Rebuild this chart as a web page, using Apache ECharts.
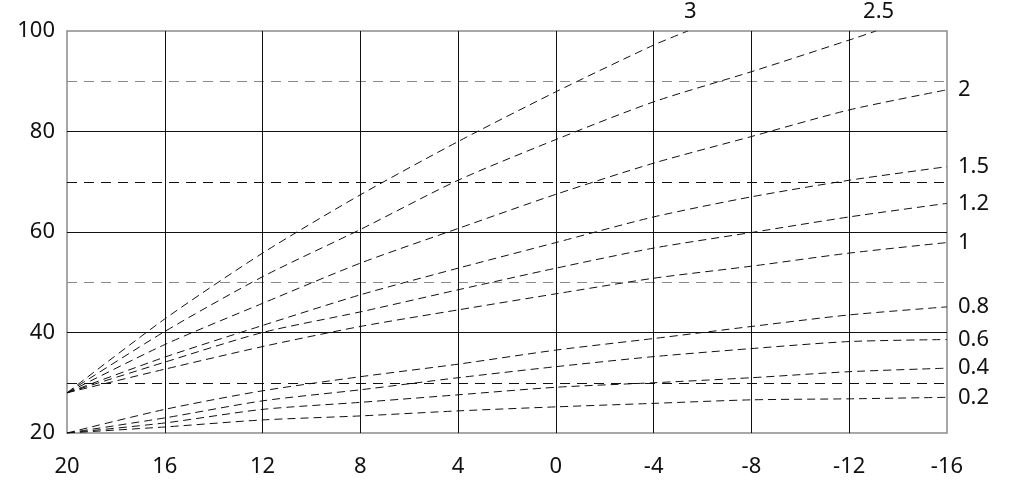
<!DOCTYPE html>
<html><head><meta charset="utf-8">
<script src="https://cdn.jsdelivr.net/npm/echarts@6/dist/echarts.min.js"></script>
<style>html,body{margin:0;padding:0;background:#fff}#c{width:1023px;height:501px}</style>
</head><body><div id="c"></div>
<script>
// Outdoor temperature (x) and flow temperature (y) heating curves
const outdoorTemps = [20, 16, 12, 8, 4, 0, -4, -8, -12, -16];
const curveNames = ['0.2', '0.4', '0.6', '0.8', '1', '1.2', '1.5', '2', '2.5', '3'];
const curve02 = [20, 21.2, 22.6, 23.4, 24.4, 25.2, 25.9, 26.6, 26.8, 27.1];
const curve04 = [20, 22.0, 24.7, 26.1, 27.6, 29.1, 30.0, 31.0, 32.2, 32.9];
const curve06 = [20, 23.0, 26.4, 28.6, 31.0, 33.2, 35.2, 36.8, 38.2, 38.6];
const curve08 = [20, 24.7, 28.4, 31.2, 33.7, 36.5, 38.8, 41.2, 43.5, 45.1];
const curve10 = [28, 32.7, 37.2, 41.2, 44.5, 47.7, 50.8, 53.2, 55.8, 57.9];
const curve12 = [28, 34.1, 40.0, 44.1, 48.5, 52.8, 56.8, 59.9, 63.0, 65.7];
const curve15 = [28, 35.1, 41.4, 47.5, 52.8, 57.9, 63.0, 67.0, 70.3, 73.0];
const curve20 = [28, 37.6, 45.8, 53.8, 60.7, 67.5, 73.7, 79.0, 84.3, 88.3];
const curve25 = [28, 40.2, 51.1, 60.5, 70.3, 78.4, 85.9, 91.9, 98.2];
const curve30 = [28, 42.7, 55.8, 67.4, 78.0, 87.9, 97.2];
// where curves 2.5 and 3 leave the top of the chart (flow = 100)
const curve25TopTemp = -13.1;
const curve30TopTemp = -5.4;
const flowTop = 100;

const curveValues = [curve02, curve04, curve06, curve08, curve10, curve12, curve15, curve20, curve25, curve30];
const topTemps = {'2.5': curve25TopTemp, '3': curve30TopTemp};

const FONT = 'Noto Sans';
const FS = 22;
const series = curveNames.map((name, k) => {
  const vals = curveValues[k];
  const data = vals.map((v, i) => [outdoorTemps[i], v]);
  const top = name in topTemps;
  if (top) data.push([topTemps[name], flowTop]);
  return {
    name: name,
    type: 'line',
    data: data,
    smooth: 0.25,
    symbol: 'none',
    yAxisIndex: 0,
    lineStyle: {color: '#111', width: 1, type: [8, 5]},
    endLabel: top ? {
      show: true, formatter: '{a}', align: 'center', verticalAlign: 'bottom',
      distance: 0, padding: [0, 0, 8, 5], fontSize: FS, fontFamily: FONT, color: '#111'
    } : {
      show: true, formatter: '{a}', align: 'left', verticalAlign: 'middle',
      distance: -11, fontSize: FS, fontFamily: FONT, color: '#111'
    }
  };
});

const chart = echarts.init(document.getElementById('c'), null, {renderer: 'canvas'});
chart.setOption({
  animation: false,
  backgroundColor: '#fff',
  grid: {left: 67, right: 76, top: 31, bottom: 68, show: true, borderColor: '#8a8a8a', borderWidth: 1.5, containLabel: false},
  xAxis: {
    type: 'value', min: -16, max: 20, interval: 4, inverse: true,
    axisLine: {show: false}, axisTick: {show: false},
    axisLabel: {fontSize: FS, fontFamily: FONT, color: '#111', margin: 23},
    splitLine: {show: true, showMinLine: false, showMaxLine: false, lineStyle: {color: '#111', width: 1}}
  },
  yAxis: [{
    type: 'value', min: 20, max: 100, interval: 20,
    axisLine: {show: false}, axisTick: {show: false},
    axisLabel: {fontSize: FS, fontFamily: FONT, color: '#111', margin: 12},
    splitLine: {show: true, showMinLine: false, showMaxLine: false, lineStyle: {color: '#111', width: 1}}
  }, {
    type: 'value', min: 20, max: 100, interval: 10, position: 'left',
    axisLine: {show: false}, axisTick: {show: false}, axisLabel: {show: false},
    splitLine: {show: true, lineStyle: {color: ['rgba(0,0,0,0)', '#111', 'rgba(0,0,0,0)', '#8a8a8a'], width: 1, type: [10, 7]}}
  }],
  series: series
});
</script>
</body></html>
